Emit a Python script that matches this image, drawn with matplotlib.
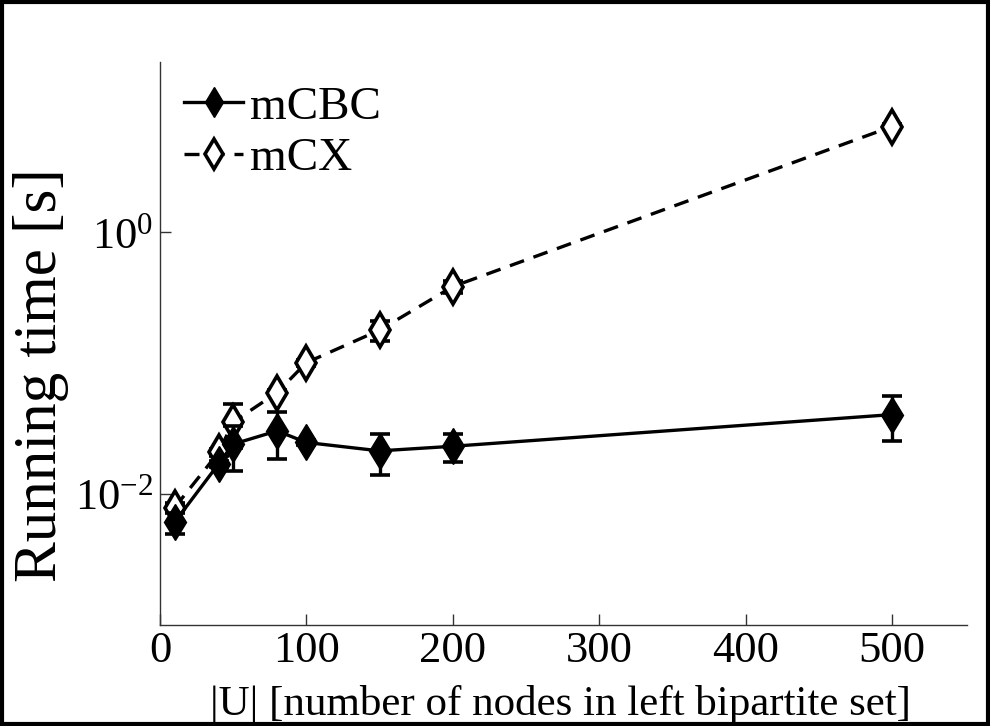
import matplotlib
matplotlib.use("Agg")
import matplotlib.pyplot as plt
from matplotlib.patches import Rectangle

# ---- data ----
x_vals = [10, 40, 50, 80, 100, 150, 200, 500]
mcbc = [0.0061, 0.0170, 0.0241, 0.0304, 0.0248, 0.0214, 0.0232, 0.0405]
mcbc_err = [0.0011, 0.0010, 0.0091, 0.0117, 0.0012, 0.0073, 0.0055, 0.0152]
mcx = [0.0079, 0.0208, 0.0355, 0.0597, 0.101, 0.179, 0.385, 6.43]
mcx_err = [0.0006, 0.0012, 0.013, 0.003, 0.005, 0.032, 0.04, 0.3]
series_labels = ["mCBC", "mCX"]
x_ticks = [0, 100, 200, 300, 400, 500]
y_ticks = [1e-2, 1e0]
x_label = "|U| [number of nodes in left bipartite set]"
y_label = "Running time [s]"

plt.rcParams['font.family'] = ['Liberation Serif', 'DejaVu Serif']
plt.rcParams['mathtext.fontset'] = 'custom'
plt.rcParams['mathtext.rm'] = 'Liberation Serif'
plt.rcParams['mathtext.it'] = 'Liberation Serif:italic'
plt.rcParams['mathtext.bf'] = 'Liberation Serif:bold'

fig = plt.figure(figsize=(9.9, 7.26), dpi=100)
ax = fig.add_axes([0.1616, 0.1391, 0.8149, 0.7755])

ax.plot(x_vals, mcbc, color='black', lw=2.4, ls='-', marker='d', ms=18,
        mfc='black', mec='black', label=series_labels[0], zorder=4)
ax.plot(x_vals, mcx, color='black', lw=2.4, ls=(0, (4.5, 3.0)), marker='d', ms=17,
        mfc='white', mec='black', mew=2.6, label=series_labels[1], zorder=3)
ax.errorbar(x_vals, mcbc, yerr=mcbc_err, fmt='none', ecolor='black',
            elinewidth=2.4, capsize=7, capthick=2.6, zorder=5)
ax.errorbar(x_vals, mcx, yerr=mcx_err, fmt='none', ecolor='black',
            elinewidth=2.4, capsize=7, capthick=2.6, zorder=2)

ax.set_yscale('log')
ax.set_xlim(0, 551)
ax.set_ylim(1e-3, 20)
ax.set_xticks(x_ticks)
ax.set_yticks(y_ticks)
ax.minorticks_off()
ax.yaxis.set_minor_locator(matplotlib.ticker.NullLocator())

for s in ['top', 'right']:
    ax.spines[s].set_visible(False)
for s in ['left', 'bottom']:
    ax.spines[s].set_linewidth(1.0)
    ax.spines[s].set_color('#333333')

ax.tick_params(axis='both', direction='in', length=8, width=1.0,
               labelsize=32, color='#333333')
ax.tick_params(axis='x', pad=4)
ax.tick_params(axis='y', pad=5)

ax.set_xlabel(x_label, fontsize=31)
ax.xaxis.set_label_coords(0.496, -0.176)
ax.xaxis.label.set_verticalalignment('bottom')

ax.set_ylabel(y_label, fontsize=44)
ax.yaxis.set_label_coords(-0.148, 0.444)
ax.yaxis.label.set_verticalalignment('center')
ax.yaxis.label.set_horizontalalignment('center')

leg = ax.legend(loc='upper left', frameon=False, fontsize=34, numpoints=1,
                handlelength=1.25, handletextpad=0.15, labelspacing=0.18,
                borderaxespad=0.2, bbox_to_anchor=(-0.005, 1.008))
for h in leg.legend_handles:
    h.set_markersize(15)

fig.patches.append(Rectangle((0.002, 0.003), 0.996, 0.994, transform=fig.transFigure,
                             fill=False, edgecolor='black', linewidth=3))

fig.savefig("out.png", dpi=100)
